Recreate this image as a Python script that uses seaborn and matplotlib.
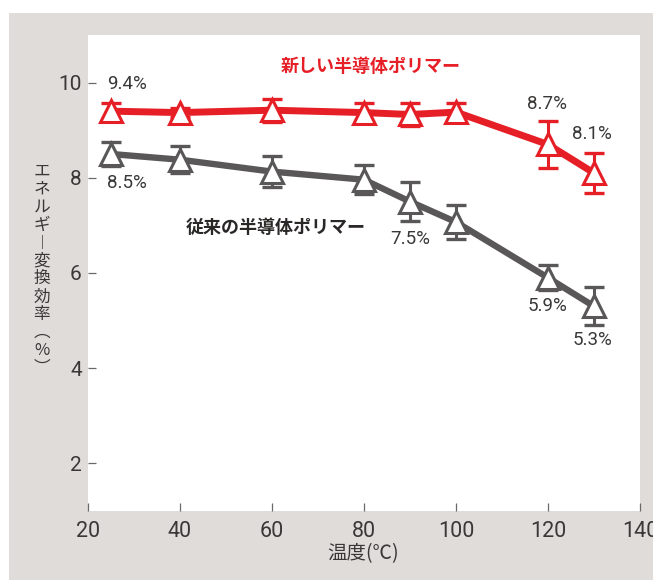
import matplotlib
matplotlib.use("Agg")
import matplotlib.pyplot as plt
from matplotlib.patches import Rectangle
import seaborn as sns
import pandas as pd

# Temperatures (°C) at which efficiency was measured
temps = [25, 40, 60, 80, 90, 100, 120, 130]

# Energy conversion efficiency (%) and error (±)
new_eff = [9.4, 9.37, 9.42, 9.37, 9.33, 9.38, 8.7, 8.1]
new_err = [0.18, 0.1, 0.24, 0.2, 0.24, 0.2, 0.5, 0.42]
old_eff = [8.5, 8.38, 8.13, 7.96, 7.5, 7.07, 5.9, 5.3]
old_err = [0.26, 0.28, 0.33, 0.3, 0.41, 0.35, 0.26, 0.4]

new_name = "新しい半導体ポリマー"
old_name = "従来の半導体ポリマー"

# Annotated values: (series, temperature index)
new_labels = {0: "9.4%", 6: "8.7%", 7: "8.1%"}
old_labels = {0: "8.5%", 4: "7.5%", 6: "5.9%", 7: "5.3%"}

x_ticks = [20, 40, 60, 80, 100, 120, 140]
y_ticks = [2, 4, 6, 8, 10]

RED = "#e61f27"
GRAY = "#595757"
TEXT = "#3a3737"
PANEL = "#e0dcd9"

sns.set_theme(style="white")
plt.rcParams["font.family"] = ["Roboto", "Noto Sans CJK JP", "DejaVu Sans"]
JP = ["Noto Sans CJK JP", "DejaVu Sans"]

fig = plt.figure(figsize=(6.53, 5.80), dpi=100, facecolor="white")
fig.patches.append(Rectangle((9 / 653, 0), 1, 1 - 13 / 580, transform=fig.transFigure,
                             facecolor=PANEL, edgecolor="none", zorder=-10))
ax = fig.add_axes([88 / 653, 1 - 511 / 580, (640 - 88) / 653, (511 - 35) / 580])
ax.set_facecolor("white")

df = pd.DataFrame({
    "temp": temps * 2,
    "eff": new_eff + old_eff,
    "err": new_err + old_err,
    "series": [new_name] * len(temps) + [old_name] * len(temps),
})
palette = {new_name: RED, old_name: GRAY}

sns.lineplot(data=df[df.series == old_name], x="temp", y="eff", color=GRAY,
             linewidth=4.6, ax=ax, zorder=2, legend=False)
sns.lineplot(data=df[df.series == new_name], x="temp", y="eff", color=RED,
             linewidth=5.0, ax=ax, zorder=2, legend=False)

for name in [old_name, new_name]:
    sub = df[df.series == name]
    c = palette[name]
    ax.errorbar(sub["temp"], sub["eff"], yerr=sub["err"], fmt="none", ecolor=c,
                elinewidth=2.2, capsize=7, capthick=2.4, zorder=3)
    ax.plot(sub["temp"], sub["eff"], linestyle="none", marker="^", markersize=16.5,
            markerfacecolor="white", markeredgecolor=c, markeredgewidth=2.2, zorder=4)

# Value annotations
label_pos_new = {0: (28.5, 9.98), 6: (119.8, 9.56), 7: (129.6, 8.93)}
label_pos_old = {0: (28.5, 7.89), 4: (90.0, 6.72), 6: (119.8, 5.31), 7: (129.6, 4.59)}
for i, s in new_labels.items():
    ax.text(*label_pos_new[i], s, ha="center", va="center", fontsize=13.5, color=TEXT)
for i, s in old_labels.items():
    ax.text(*label_pos_old[i], s, ha="center", va="center", fontsize=13.5, color=TEXT)

ax.text(81.5, 10.34, new_name, ha="center", va="center", fontsize=13,
        color=RED, fontweight="bold", family=JP)
ax.text(60.8, 6.95, old_name, ha="center", va="center", fontsize=13,
        color="#2a2727", fontweight="bold", family=JP)

ax.set_xlim(20, 140)
ax.set_ylim(1, 11)
ax.set_xticks(x_ticks)
ax.set_yticks(y_ticks)
for sp in ax.spines.values():
    sp.set_visible(False)
ax.tick_params(axis="both", direction="in", length=5.5, width=0.9, color="#6b6868",
               labelcolor=TEXT)
ax.tick_params(axis="y", labelsize=15, pad=4.5, left=True)
ax.tick_params(axis="x", labelsize=15.5, pad=7, bottom=True)
ax.set_xlabel("")
ax.set_ylabel("")

fig.text(363 / 653, 1 - 554 / 580, "温度(℃)", ha="center", va="center",
         fontsize=14, color=TEXT, family=JP)

# Vertical (tategaki) axis title, one glyph per line
ylab_chars = ["エ", "ネ", "ル", "ギ", "︱", "変", "換", "効", "率", "︵", "%", "︶"]
fig.text(42 / 653, 1 - 270 / 580, "\n".join(ylab_chars), ha="center", va="center",
         fontsize=12, color=TEXT, family=JP, linespacing=1.07)

fig.savefig("out.png", dpi=100, facecolor="white")
